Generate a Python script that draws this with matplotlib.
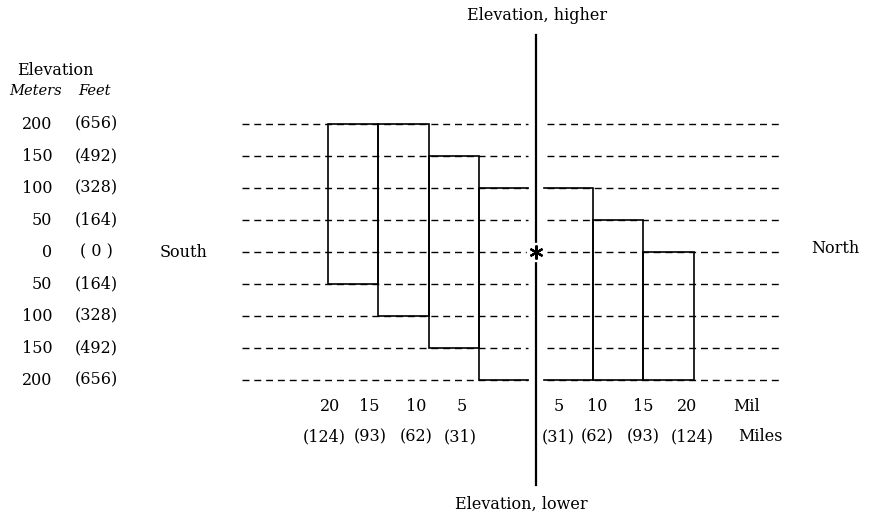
import matplotlib.pyplot as plt

# Elevation levels (meters, + higher / - lower) and their labels
levels = [200, 150, 100, 50, 0, -50, -100, -150, -200]
meter_labels = ['200', '150', '100', '50', '0', '50', '100', '150', '200']
feet_labels = ['(656)', '(492)', '(328)', '(164)', '( 0 )', '(164)', '(328)', '(492)', '(656)']

# Distance bands (mil) from the center, with top / bottom elevation of each band
south_start = [0, 5, 10, 15]
south_top = [100, 150, 200, 200]
south_bottom = [-200, -150, -100, -50]

north_start = [0, 5, 10]
north_top = [100, 50, 0]
north_bottom = [-200, -200, -200]

dist_mil = ['20', '15', '10', '5']
dist_miles = ['(124)', '(93)', '(62)', '(31)']
dist_mil_n = ['5', '10', '15', '20']
dist_miles_n = ['(31)', '(62)', '(93)', '(124)']

plt.rcParams['font.family'] = ['DejaVu Serif']
fs = 11.5

fig = plt.figure(figsize=(8.71, 5.21), dpi=100)
ax = fig.add_axes([0, 0, 1, 1])
ax.set_xlim(-53.07, 33.17)
ax.set_ylim(-420.3, 393.75)
ax.axis('off')

gap = 0.8      # half gap around the center line
off = 0.6      # shift of the distance scale away from the center
band = 5
lw_box = 1.2

# dashed guide lines
for lv in levels:
    ax.plot([-29.1, -gap], [lv, lv], ls=(0, (5, 3.5)), color='black', lw=1.0)
    ax.plot([1.1, 24.5], [lv, lv], ls=(0, (5, 3.5)), color='black', lw=1.0)


def draw_band(side, s, t, b):
    inner = side * (s + off) if s > 0 else side * gap
    outer = side * (s + band + off)
    if s > 0:
        xs, ys = [inner, inner, outer, outer, inner], [b, t, t, b, b]
    else:
        xs, ys = [inner, outer, outer, inner], [t, t, b, b]
    ax.plot(xs, ys, color='black', lw=lw_box, solid_joinstyle='miter')


for s, t, b in zip(south_start, south_top, south_bottom):
    draw_band(-1, s, t, b)
for s, t, b in zip(north_start, north_top, north_bottom):
    draw_band(1, s, t, b)

# center line with the asterisk
ax.plot([0, 0], [339, -364], color='black', lw=1.6)
ax.plot(0, 0, marker='o', ms=13, color='white', zorder=3)
ax.plot(0, 0, marker=(6, 2, 0), ms=10, color='black', mew=1.6, zorder=4)

ax.text(0.1, 370, 'Elevation, higher', ha='center', va='center', fontsize=fs)
ax.text(-1.5, -395, 'Elevation, lower', ha='center', va='center', fontsize=fs)

# left scale
ax.text(-47.6, 284, 'Elevation', ha='center', va='center', fontsize=fs)
ax.text(-49.6, 252, 'Meters', ha='center', va='center', fontsize=fs - 1, style='italic')
ax.text(-43.7, 252, 'Feet', ha='center', va='center', fontsize=fs - 1, style='italic')
for lv, m, f in zip(levels, meter_labels, feet_labels):
    ax.text(-47.9, lv, m, ha='right', va='center', fontsize=fs)
    ax.text(-43.5, lv, f, ha='center', va='center', fontsize=fs)

ax.text(-34.9, 0, 'South', ha='center', va='center', fontsize=fs)
ax.text(29.6, 6, 'North', ha='center', va='center', fontsize=fs)

# distance labels
south_lab_x = [-20.4, -16.5, -11.9, -7.4]
south_lab2_x = [-21.0, -16.4, -11.9, -7.5]
north_lab_x = [2.3, 6.1, 10.6, 15.0]
north_lab2_x = [2.2, 6.1, 10.6, 15.5]
for x, x2, a, b in zip(south_lab_x, south_lab2_x, dist_mil, dist_miles):
    ax.text(x, -242, a, ha='center', va='center', fontsize=fs)
    ax.text(x2, -289, b, ha='center', va='center', fontsize=fs)
for x, x2, a, b in zip(north_lab_x, north_lab2_x, dist_mil_n, dist_miles_n):
    ax.text(x, -242, a, ha='center', va='center', fontsize=fs)
    ax.text(x2, -289, b, ha='center', va='center', fontsize=fs)
ax.text(19.5, -242, 'Mil', ha='left', va='center', fontsize=fs)
ax.text(20.0, -289, 'Miles', ha='left', va='center', fontsize=fs)

fig.savefig('out.png', dpi=100)
